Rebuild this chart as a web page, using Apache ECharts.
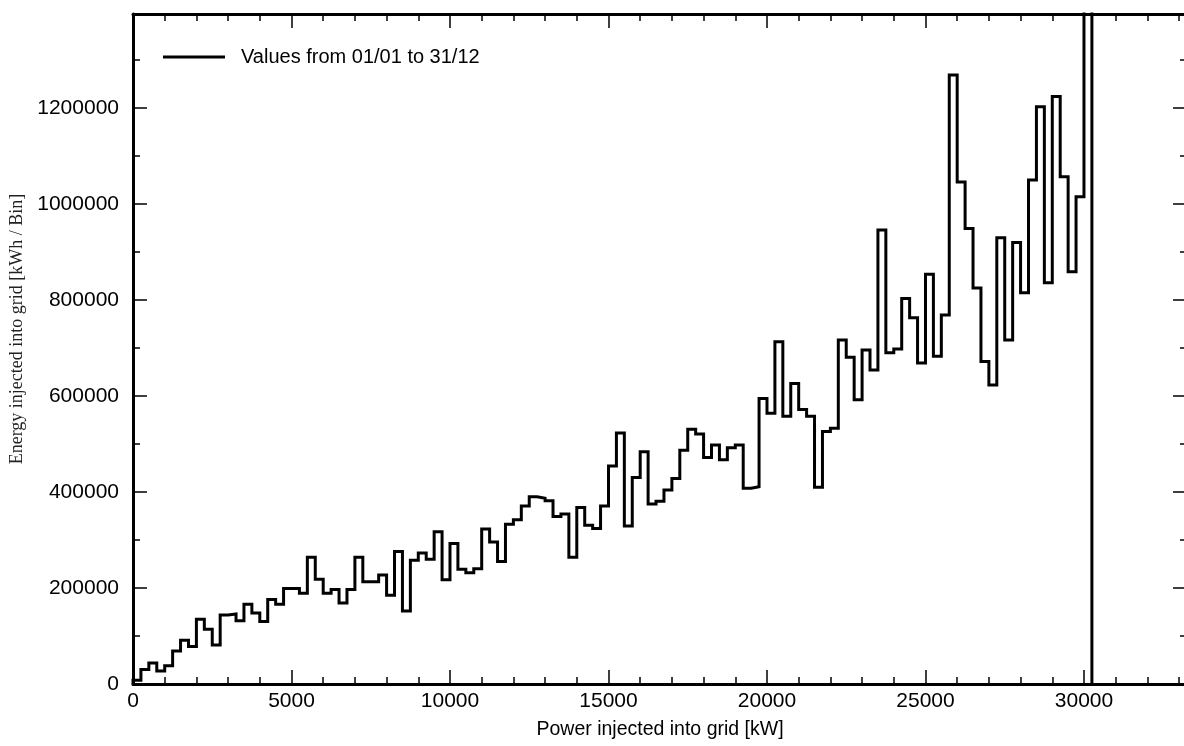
<!DOCTYPE html>
<html>
<head>
<meta charset="utf-8">
<script src="https://cdn.jsdelivr.net/npm/echarts@6/dist/echarts.min.js"></script>
<style>
html,body{margin:0;padding:0;background:#fff;}
#chart{width:1184px;height:746px;}
</style>
</head>
<body>
<div id="chart"></div>
<script>
// Bin width of the histogram (kW)
const binWidth = 250;
// Energy per bin (kWh / Bin), bins 0-250, 250-500, ... 30000-30250
const energyPerBin = [
  8000, 30000, 44000, 27000, 38000, 69000, 91000, 78000, 135000, 114000,
  81000, 144000, 146000, 132000, 166000, 148000, 130000, 176000, 166000, 199000,
  199000, 189000, 264000, 218000, 189000, 197000, 169000, 197000, 264000, 213000,
  213000, 227000, 185000, 276000, 152000, 258000, 273000, 260000, 317000, 217000,
  293000, 239000, 232000, 240000, 323000, 296000, 255000, 333000, 342000, 371000,
  390000, 387000, 382000, 349000, 354000, 264000, 368000, 331000, 324000, 371000,
  454000, 523000, 329000, 430000, 484000, 375000, 381000, 404000, 428000, 487000,
  531000, 521000, 472000, 498000, 467000, 492000, 498000, 408000, 411000, 595000,
  564000, 713000, 558000, 626000, 572000, 558000, 410000, 526000, 533000, 717000,
  681000, 592000, 696000, 654000, 946000, 690000, 698000, 803000, 763000, 669000,
  854000, 683000, 769000, 1269000, 1046000, 949000, 825000, 672000, 623000, 930000,
  717000, 920000, 815000, 1050000, 1203000, 836000, 1224000, 1057000, 859000, 1015000,
  1600000
];
const seriesName = 'Values from 01/01 to 31/12';
const xTitle = 'Power injected into grid [kW]';
const yTitle = 'Energy injected into grid [kWh / Bin]';
const xMax = 33250;
const yMax = 1396000;

// Step outline: start at (0,0), each bin drawn up to its right edge, close down to 0
const pts = [[0, 0]];
energyPerBin.forEach((v, i) => pts.push([(i + 1) * binWidth, v]));
pts.push([energyPerBin.length * binWidth, 0]);

const chart = echarts.init(document.getElementById('chart'), null, {renderer: 'canvas'});
const font = "'Liberation Sans', Arial, sans-serif";
const lineStyle = {color: '#000', width: 3};
const tickMajor = {show: true, inside: true, length: 14, lineStyle: {color: '#000', width: 1.5}};
const tickMinor = {show: true, inside: true, length: 7, lineStyle: {color: '#000', width: 1.5}};
const noLabel = {show: false};
const noSplit = {show: false};
const plain = v => String(v);

chart.setOption({
  backgroundColor: '#fff',
  animation: false,
  grid: {left: 133, top: 14, width: 1054, height: 670, containLabel: false, outerBoundsMode: 'none'},
  legend: {
    left: 158, top: 42,
    icon: 'rect', itemWidth: 62, itemHeight: 3,
    textStyle: {fontFamily: font, fontSize: 20, color: '#000', padding: [0, 0, 0, 11]},
    data: [seriesName]
  },
  xAxis: [
    {type: 'value', position: 'bottom', min: 0, max: xMax, interval: 5000,
     axisLine: {show: true, onZero: false, lineStyle: lineStyle}, axisTick: tickMajor,
     axisLabel: {fontFamily: font, fontSize: 21, color: '#000', margin: 7, showMaxLabel: false, formatter: plain},
     splitLine: noSplit,
     name: xTitle, nameLocation: 'middle', nameGap: 36,
     nameTextStyle: {fontFamily: font, fontSize: 19.5, color: '#000'}},
    {type: 'value', position: 'bottom', min: 0, max: xMax, interval: 1000,
     axisLine: {show: false, onZero: false}, axisTick: tickMinor, axisLabel: noLabel, splitLine: noSplit},
    {type: 'value', position: 'top', min: 0, max: xMax, interval: 5000,
     axisLine: {show: true, onZero: false, lineStyle: lineStyle}, axisTick: tickMajor, axisLabel: noLabel, splitLine: noSplit},
    {type: 'value', position: 'top', min: 0, max: xMax, interval: 1000,
     axisLine: {show: false, onZero: false}, axisTick: tickMinor, axisLabel: noLabel, splitLine: noSplit}
  ],
  yAxis: [
    {type: 'value', position: 'left', min: 0, max: yMax, interval: 200000,
     axisLine: {show: true, onZero: false, lineStyle: lineStyle}, axisTick: tickMajor,
     axisLabel: {fontFamily: font, fontSize: 21, color: '#000', margin: 14, showMaxLabel: false, formatter: plain},
     splitLine: noSplit,
     name: yTitle, nameLocation: 'middle', nameGap: 103, nameRotate: 90,
     nameTextStyle: {fontFamily: "'Liberation Serif', 'Times New Roman', serif", fontSize: 18, color: '#222', padding: [0, 0, 0, 40]}},
    {type: 'value', position: 'left', min: 0, max: yMax, interval: 100000,
     axisLine: {show: false, onZero: false}, axisTick: tickMinor, axisLabel: noLabel, splitLine: noSplit},
    {type: 'value', position: 'right', min: 0, max: yMax, interval: 200000,
     axisLine: {show: true, onZero: false, lineStyle: lineStyle}, axisTick: tickMajor, axisLabel: noLabel, splitLine: noSplit},
    {type: 'value', position: 'right', min: 0, max: yMax, interval: 100000,
     axisLine: {show: false, onZero: false}, axisTick: tickMinor, axisLabel: noLabel, splitLine: noSplit}
  ],
  series: [{
    name: seriesName,
    type: 'line',
    step: 'start',
    xAxisIndex: 0, yAxisIndex: 0,
    data: pts,
    symbol: 'none',
    clip: true,
    lineStyle: {color: '#000', width: 3, join: 'miter'},
    itemStyle: {color: '#000'}
  }]
});
</script>
</body>
</html>
